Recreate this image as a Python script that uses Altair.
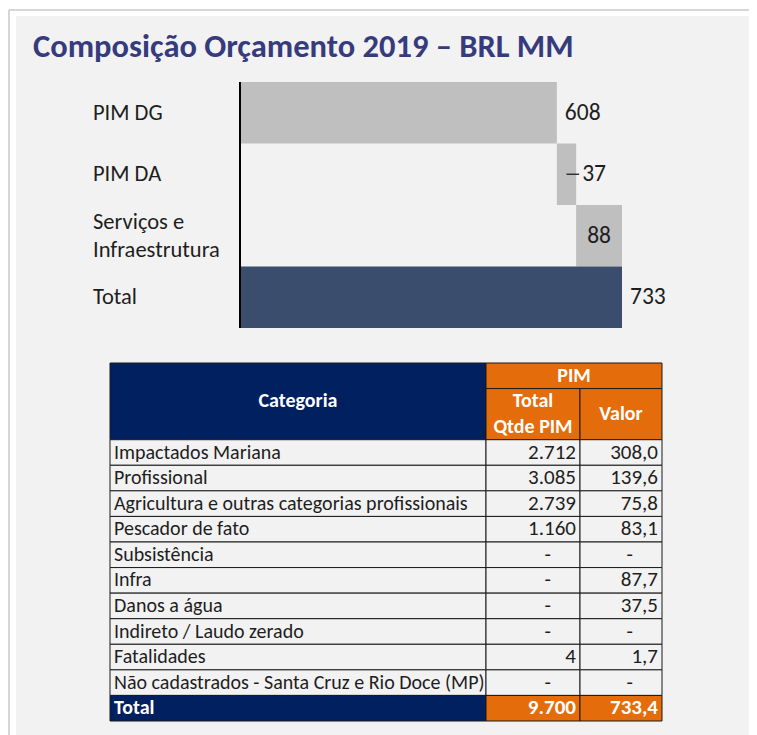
import altair as alt
import pandas as pd

# ---------------- data ----------------
TITLE = "Composição Orçamento 2019 – BRL MM"

wf_names = ["PIM DG", "PIM DA", "Serviços e Infraestrutura"]
wf_lines = ["PIM DG", "PIM DA", "Serviços e\nInfraestrutura"]
wf_values = [608, 37, 88]
wf_total_name = "Total"
wf_total_value = 733

tbl_header_cat = "Categoria"
tbl_header_group = "PIM"
tbl_header_qtde = "Total\nQtde PIM"
tbl_header_valor = "Valor"
tbl_categories = [
    "Impactados Mariana",
    "Profissional",
    "Agricultura e outras categorias profissionais",
    "Pescador de fato",
    "Subsistência",
    "Infra",
    "Danos a água",
    "Indireto / Laudo zerado",
    "Fatalidades",
    "Não cadastrados - Santa Cruz e Rio Doce (MP)",
]
tbl_qtde = [2712, 3085, 2739, 1160, None, None, None, None, 4, None]
tbl_valor = [308.0, 139.6, 75.8, 83.1, None, 87.7, 37.5, None, 1.7, None]
tbl_total_name = "Total"
tbl_total_qtde = 9700
tbl_total_valor = 733.4

# ---------------- style / layout ----------------
FONT = "Carlito, Lato, sans-serif"
TITLE_COLOR = "#363b7d"
TEXT = "#1e1e1e"
GRAY = "#bfbfbf"
TOTAL_BAR = "#3a4d6c"
NAVY = "#002060"
ORANGE = "#e46c0a"
PANEL = "#f2f2f2"
FRAME = "#d6d6d6"
GRID = "#1a1a1a"

W, H = 733, 719
LABEL_POS = ["outside", "leader", "inside", "outside"]
WF_X0, WF_X1 = 224, 606
WF_Y0, WF_Y1 = 66, 312
CAT_X = 77
WF_CAT_FS = 22.5
WF_NUM_FS = 23.5
WF_LINE_H = 28
COL_EDGES = [0, 376, 470, 552]
TBL_X0, TBL_X1 = 94, 646
TBL_Y0, TBL_Y1 = 347, 705
HDR_ROWS = 3
TS = 20
NS = 21


def fmt_int(v):
    return f"{v:,}".replace(",", ".")


def fmt_dec(v):
    return f"{v:,.1f}".replace(",", "X").replace(".", ",").replace("X", ".")


# ---------------- frame / title ----------------
one = pd.DataFrame({"t": [TITLE]})
frame_v = alt.Chart(one).mark_rule(color=FRAME, strokeWidth=2).encode(
    x=alt.value(-7), y=alt.value(-6), y2=alt.value(H)
)
frame_h = alt.Chart(one).mark_rule(color=FRAME, strokeWidth=2).encode(
    y=alt.value(-6), x=alt.value(-7), x2=alt.value(W)
)
title = alt.Chart(one).mark_text(
    align="left", baseline="alphabetic", font=FONT, fontSize=32.5,
    fontWeight="bold", color=TITLE_COLOR
).encode(x=alt.value(17), y=alt.value(41), text="t:N")

# ---------------- waterfall ----------------
starts, ends = [], []
acc = 0
for v in wf_values:
    starts.append(acc)
    acc += v
    ends.append(acc)
wf = pd.DataFrame({
    "cat": wf_names + [wf_total_name],
    "lines": wf_lines + [wf_total_name],
    "start": starts + [0],
    "end": ends + [wf_total_value],
    "val": wf_values + [wf_total_value],
    "fill": [GRAY] * len(wf_values) + [TOTAL_BAR],
    "pos": LABEL_POS,
})
wf["mid"] = (wf["start"] + wf["end"]) / 2

xw = alt.Scale(domain=[0, wf_total_value], range=[WF_X0, WF_X1], nice=False, zero=False)
yw = alt.Scale(domain=wf["cat"].tolist(), range=[WF_Y0, WF_Y1], paddingInner=0, paddingOuter=0)
Yw = alt.Y("cat:N", scale=yw, axis=None)

base = alt.Chart(wf)
bars = base.mark_rect().encode(
    x=alt.X("start:Q", scale=xw, axis=None), x2="end:Q", y=Yw,
    fill=alt.Fill("fill:N", scale=None),
)
axis_line = alt.Chart(pd.DataFrame({"x0": [0]})).mark_rule(color="black", strokeWidth=2).encode(
    x=alt.X("x0:Q", scale=xw, axis=None), y=alt.value(WF_Y0), y2=alt.value(WF_Y1)
)
lbl = base.transform_calculate(ln="split(datum.lines, '\\n')")
cat_single = lbl.transform_filter("length(datum.ln) == 1").mark_text(
    align="left", baseline="middle", font=FONT, fontSize=WF_CAT_FS, color=TEXT
).encode(x=alt.value(CAT_X), y=Yw, text="ln:N")
cat_multi = lbl.transform_filter("length(datum.ln) == 2").mark_text(
    align="left", baseline="middle", font=FONT, fontSize=WF_CAT_FS, color=TEXT,
    lineHeight=WF_LINE_H, dy=-WF_LINE_H / 2
).encode(x=alt.value(CAT_X), y=Yw, text="ln:N")
lab_out = base.transform_filter("datum.pos == 'outside'").mark_text(
    align="left", baseline="middle", dx=8, font=FONT, fontSize=WF_NUM_FS, color=TEXT
).encode(x=alt.X("end:Q", scale=xw, axis=None), y=Yw, text=alt.Text("val:Q", format="d"))
lab_in = base.transform_filter("datum.pos == 'inside'").mark_text(
    align="center", baseline="middle", font=FONT, fontSize=WF_NUM_FS, color=TEXT
).encode(x=alt.X("mid:Q", scale=xw, axis=None), y=Yw, text=alt.Text("val:Q", format="d"))
lead_rule = base.transform_filter("datum.pos == 'leader'").mark_rule(
    color=TEXT, strokeWidth=1.3, x2Offset=3
).encode(
    x=alt.X("mid:Q", scale=xw, axis=None), x2="end:Q",
    y=alt.Y("cat:N", scale=yw, axis=None, bandPosition=0.5),
)
lead_txt = base.transform_filter("datum.pos == 'leader'").mark_text(
    align="left", baseline="middle", dx=6, font=FONT, fontSize=WF_NUM_FS, color=TEXT
).encode(x=alt.X("end:Q", scale=xw, axis=None), y=Yw, text=alt.Text("val:Q", format="d"))

waterfall = alt.layer(bars, axis_line, cat_single, cat_multi, lab_out, lab_in, lead_rule, lead_txt)

# ---------------- table ----------------
e0, e1, e2, e3 = COL_EDGES
n_rows = HDR_ROWS + len(tbl_categories) + 1
row_px = (TBL_Y1 - TBL_Y0) / n_rows


def first_line_y(center, text):
    return center - (len(text.split("\n")) - 1) / 2


cells = [
    dict(x0=e0, x1=e1, r0=0, r1=HDR_ROWS, fill=NAVY),
    dict(x0=e1, x1=e3, r0=0, r1=1, fill=ORANGE),
    dict(x0=e1, x1=e2, r0=1, r1=HDR_ROWS, fill=ORANGE),
    dict(x0=e2, x1=e3, r0=1, r1=HDR_ROWS, fill=ORANGE),
]
texts = [
    dict(x=(e0 + e1) / 2, y=first_line_y(HDR_ROWS / 2, tbl_header_cat), t=tbl_header_cat, k="hdr"),
    dict(x=(e1 + e3) / 2, y=first_line_y(0.5, tbl_header_group), t=tbl_header_group, k="hdr"),
    dict(x=(e1 + e2) / 2, y=first_line_y((1 + HDR_ROWS) / 2, tbl_header_qtde), t=tbl_header_qtde, k="hdr"),
    dict(x=(e2 + e3) / 2, y=first_line_y((1 + HDR_ROWS) / 2, tbl_header_valor), t=tbl_header_valor, k="hdr"),
]
for i, (c, q, v) in enumerate(zip(tbl_categories, tbl_qtde, tbl_valor)):
    r = HDR_ROWS + i
    for a, b in [(e0, e1), (e1, e2), (e2, e3)]:
        cells.append(dict(x0=a, x1=b, r0=r, r1=r + 1, fill=PANEL))
    texts.append(dict(x=e0, y=r + 0.5, t=c, k="left"))
    texts.append(dict(x=e2, y=r + 0.5, t=fmt_int(q) if q is not None else "-",
                      k="num" if q is not None else "dash"))
    texts.append(dict(x=e3, y=r + 0.5, t=fmt_dec(v) if v is not None else "-",
                      k="num" if v is not None else "dash"))
rt = n_rows - 1
cells += [
    dict(x0=e0, x1=e1, r0=rt, r1=rt + 1, fill=NAVY),
    dict(x0=e1, x1=e2, r0=rt, r1=rt + 1, fill=ORANGE),
    dict(x0=e2, x1=e3, r0=rt, r1=rt + 1, fill=ORANGE),
]
texts += [
    dict(x=e0, y=rt + 0.5, t=tbl_total_name, k="tleft"),
    dict(x=e2, y=rt + 0.5, t=fmt_int(tbl_total_qtde), k="tnum"),
    dict(x=e3, y=rt + 0.5, t=fmt_dec(tbl_total_valor), k="tnum"),
]
cells_df = pd.DataFrame(cells)
texts_df = pd.DataFrame(texts)

xt = alt.Scale(domain=[0, e3], range=[TBL_X0, TBL_X1], nice=False, zero=False)
yt = alt.Scale(domain=[0, n_rows], range=[TBL_Y0, TBL_Y1], nice=False, zero=False)

rects = alt.Chart(cells_df).mark_rect(stroke=GRID, strokeWidth=1).encode(
    x=alt.X("x0:Q", scale=xt, axis=None), x2="x1:Q",
    y=alt.Y("r0:Q", scale=yt, axis=None), y2="r1:Q",
    fill=alt.Fill("fill:N", scale=None),
)
tb = alt.Chart(texts_df)
Xt = alt.X("x:Q", scale=xt, axis=None)
Yt = alt.Y("y:Q", scale=yt, axis=None)
hdr = tb.transform_filter("datum.k == 'hdr'").transform_calculate(
    ln="split(datum.t, '\\n')"
).mark_text(align="center", baseline="middle", font=FONT, fontSize=TS, fontWeight="bold",
            color="white", lineHeight=row_px).encode(x=Xt, y=Yt, text="ln:N")
left = tb.transform_filter("datum.k == 'left'").mark_text(
    align="left", baseline="middle", dx=4, font=FONT, fontSize=TS, color=TEXT
).encode(x=Xt, y=Yt, text="t:N")
num = tb.transform_filter("datum.k == 'num'").mark_text(
    align="right", baseline="middle", dx=-4, font=FONT, fontSize=NS, color=TEXT
).encode(x=Xt, y=Yt, text="t:N")
dash = tb.transform_filter("datum.k == 'dash'").mark_text(
    align="right", baseline="middle", dx=-29, font=FONT, fontSize=NS, color=TEXT
).encode(x=Xt, y=Yt, text="t:N")
tleft = tb.transform_filter("datum.k == 'tleft'").mark_text(
    align="left", baseline="middle", dx=4, font=FONT, fontSize=TS, fontWeight="bold", color="white"
).encode(x=Xt, y=Yt, text="t:N")
tnum = tb.transform_filter("datum.k == 'tnum'").mark_text(
    align="right", baseline="middle", dx=-4, font=FONT, fontSize=NS, fontWeight="bold", color="white"
).encode(x=Xt, y=Yt, text="t:N")

table = alt.layer(rects, hdr, left, num, dash, tleft, tnum)

chart = alt.layer(frame_v, frame_h, waterfall, table, title).resolve_scale(
    x="independent", y="independent"
).properties(
    width=W, height=H,
    autosize=alt.AutoSizeParams(type="none"),
    padding={"left": 8, "top": 8, "right": 0, "bottom": 0},
    background="white",
).configure_view(fill=PANEL, strokeWidth=0)

chart.save("out.html", embed_options={"renderer": "svg", "actions": False})
